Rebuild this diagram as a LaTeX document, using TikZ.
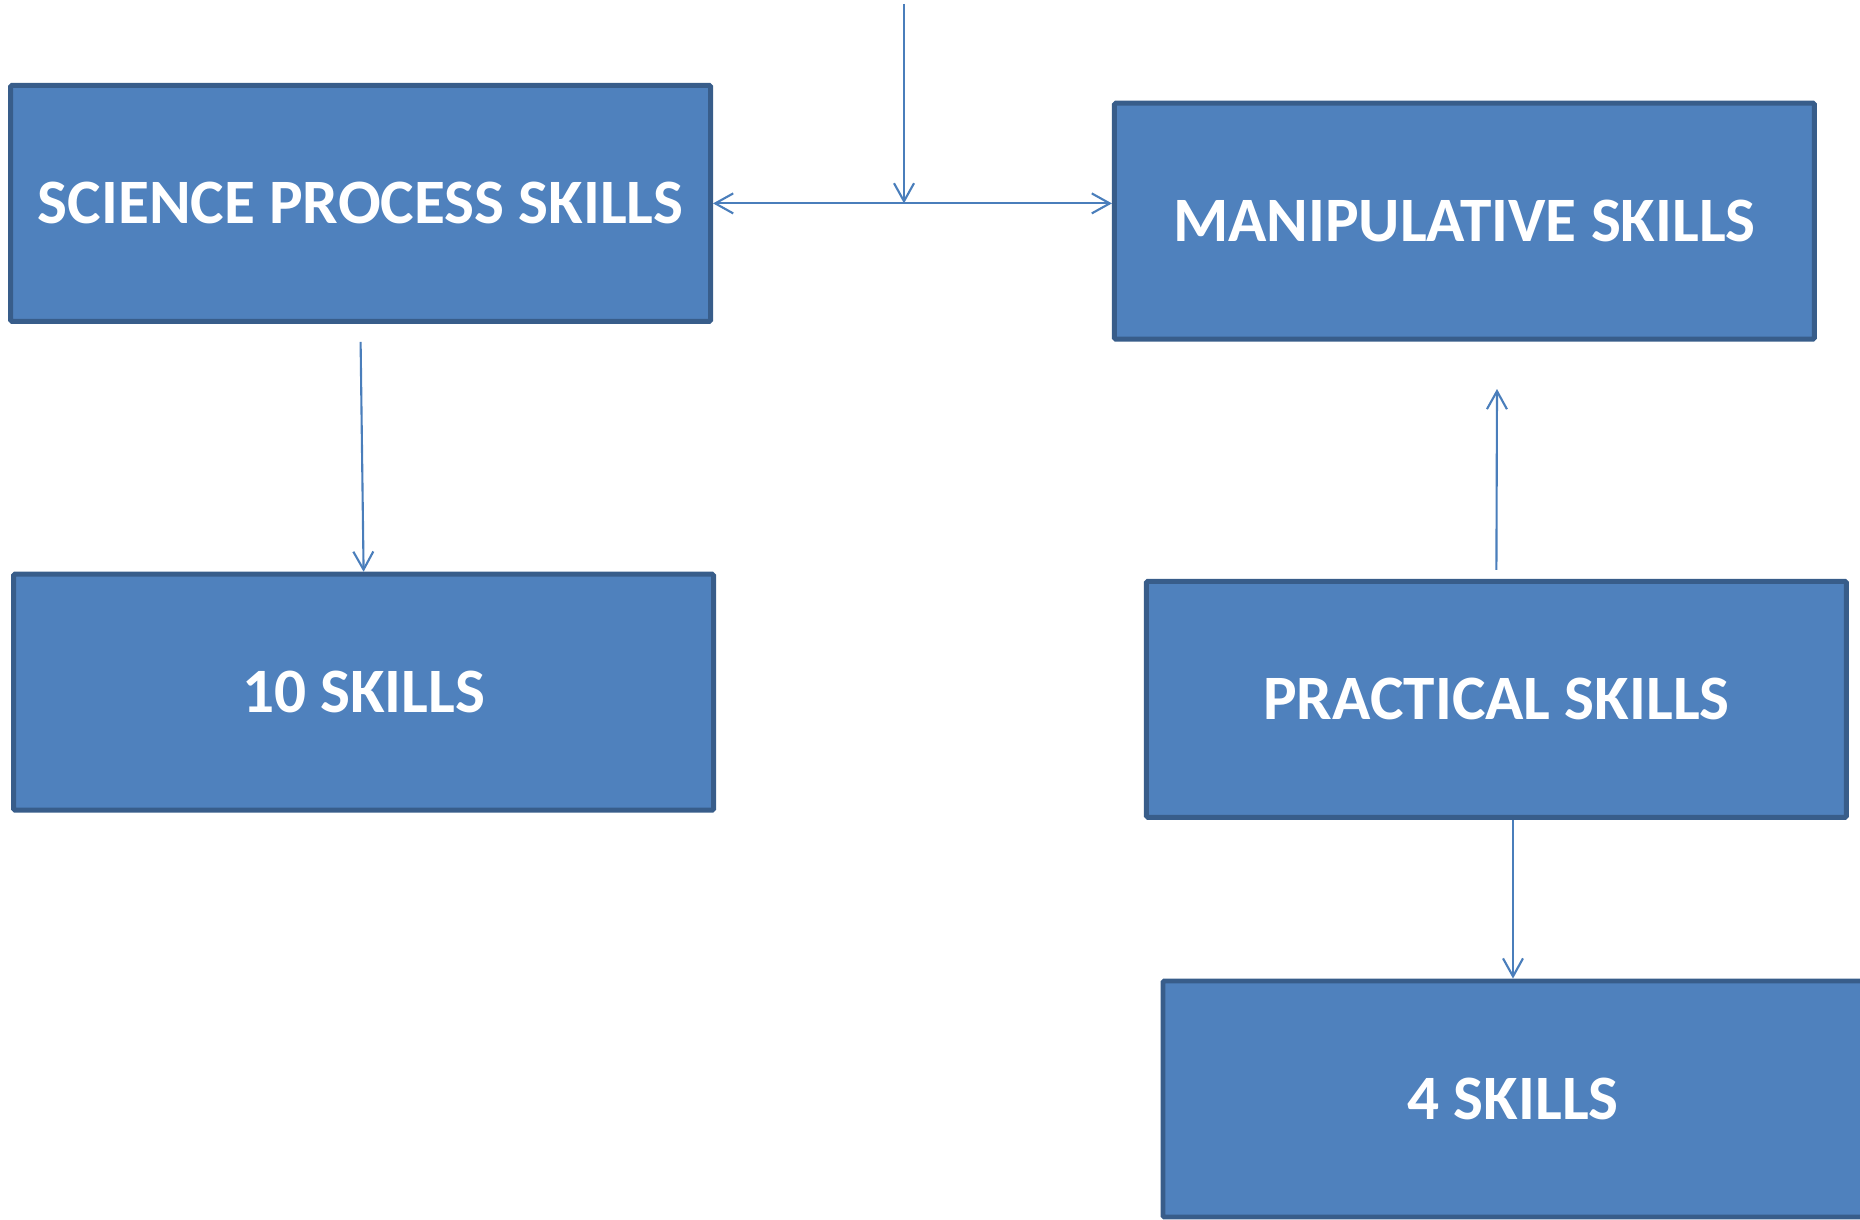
\documentclass[tikz,border=0pt]{standalone}
\usepackage{fontspec}
\setmainfont{Carlito}
\usetikzlibrary{arrows.meta}

\definecolor{boxfill}{HTML}{4F81BD}
\definecolor{boxline}{HTML}{385D8A}
\definecolor{linkcol}{HTML}{4A7EBB}

\begin{document}
\begin{tikzpicture}[
        x=0.1mm, y=-0.1mm,
        skill/.style={
            rectangle, draw=boxline, fill=boxfill, line width=1.4pt,
            rounded corners=0.4pt,
            minimum width=70.0mm, minimum height=23.6mm, inner sep=0pt,
            text=white, font=\fontsize{18}{22}\selectfont\bfseries,
            align=center
        },
        arrow/.style={-{Straight Barb[length=1.8mm,width=2mm]},
            draw=linkcol, line width=0.6pt}
    ]
        \clip (0,0) rectangle (1860,1220);

        % Boxes
        \node[skill] (sps) at (360.6,203.4) {SCIENCE PROCESS SKILLS};
        \node[skill] (manip) at (1464.4,221.2) {MANIPULATIVE SKILLS};
        \node[skill] (ten) at (363.6,692.2) {10 SKILLS};
        \node[skill] (prac) at (1496.4,699.3) {PRACTICAL SKILLS};
        \node[skill] (four) at (1513,1099) {4 SKILLS};

        % Free ends
        \coordinate (top) at (904,4);
        \coordinate (manipgap) at (1497,389);

        % Links
        \draw[arrow] (top) -- (top |- sps.east);
        \draw[arrow, {Straight Barb[length=1.8mm,width=2mm]}-{Straight Barb[length=1.8mm,width=2mm]}]
            (sps.east) -- (sps.east -| manip.west);
        \draw[arrow] ([yshift=-1.8mm]sps.south) -- (ten.north);
        \draw[arrow] ([yshift=0.9mm]prac.north) -- (manipgap);
        \draw[arrow] (four.north |- prac.south) -- (four.north);

    \end{tikzpicture}
\end{document}
